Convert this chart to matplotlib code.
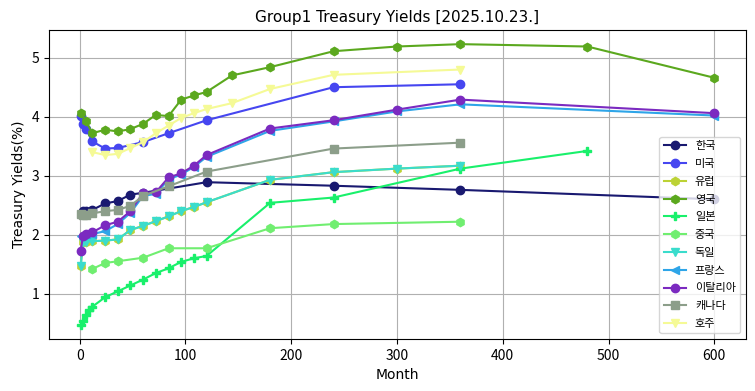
import matplotlib
matplotlib.use("Agg")
import matplotlib.pyplot as plt

plt.rcParams['font.family'] = ['Noto Sans CJK KR', 'DejaVu Sans']

# months / yields (%) per country
kr_m = [3, 6, 12, 24, 36, 48, 60, 120, 240, 360, 600]
kr_y = [2.41, 2.41, 2.42, 2.53, 2.57, 2.68, 2.71, 2.89, 2.83, 2.76, 2.60]

us_m = [1, 3, 6, 12, 24, 36, 60, 84, 120, 240, 360]
us_y = [4.02, 3.88, 3.79, 3.58, 3.46, 3.47, 3.57, 3.72, 3.94, 4.50, 4.55]

de_m = [1, 3, 6, 12, 24, 36, 48, 60, 72, 84, 96, 108, 120, 180, 240, 300, 360]
de_y = [1.47, 1.87, 1.88, 1.89, 1.90, 1.92, 2.08, 2.15, 2.23, 2.31, 2.40, 2.47,
        2.55, 2.93, 3.06, 3.12, 3.17]

uk_m = [1, 6, 12, 24, 36, 48, 60, 72, 84, 96, 108, 120, 144, 180, 240, 300,
        360, 480, 600]
uk_y = [4.07, 3.92, 3.72, 3.78, 3.75, 3.79, 3.88, 4.03, 4.01, 4.29, 4.36, 4.42,
        4.70, 4.84, 5.11, 5.19, 5.23, 5.19, 4.66]

jp_m = [1, 3, 6, 9, 12, 24, 36, 48, 60, 72, 84, 96, 108, 120, 180, 240, 360, 480]
jp_y = [0.47, 0.53, 0.64, 0.72, 0.78, 0.94, 1.04, 1.14, 1.24, 1.35, 1.43, 1.54,
        1.60, 1.64, 2.54, 2.63, 3.12, 3.42]

cn_m = [12, 24, 36, 60, 84, 120, 180, 240, 360]
cn_y = [1.42, 1.52, 1.55, 1.61, 1.77, 1.77, 2.11, 2.18, 2.22]

fr_m = [1, 3, 6, 12, 24, 36, 48, 60, 72, 84, 96, 108, 120, 180, 240, 300, 360, 600]
fr_y = [1.97, 2.00, 2.02, 2.01, 2.06, 2.18, 2.37, 2.66, 2.69, 2.94, 3.02, 3.15,
        3.32, 3.76, 3.92, 4.09, 4.21, 4.02]

it_m = [1, 3, 6, 12, 24, 36, 48, 60, 72, 84, 96, 108, 120, 180, 240, 300, 360, 600]
it_y = [1.73, 1.97, 2.01, 2.04, 2.16, 2.22, 2.40, 2.71, 2.72, 2.97, 3.04, 3.17,
        3.35, 3.80, 3.94, 4.12, 4.29, 4.06]

ca_m = [1, 3, 6, 12, 24, 36, 48, 60, 84, 120, 240, 360]
ca_y = [2.35, 2.33, 2.33, 2.36, 2.40, 2.42, 2.49, 2.66, 2.82, 3.07, 3.46, 3.56]

au_m = [12, 24, 36, 48, 60, 72, 84, 96, 108, 120, 144, 180, 240, 360]
au_y = [3.40, 3.35, 3.37, 3.47, 3.57, 3.72, 3.85, 3.98, 4.06, 4.13, 4.23, 4.47,
        4.71, 4.80]

# Europe curve sits exactly under Germany in the reference
eu_m = de_m
eu_y = de_y

series = [
    ("한국", kr_m, kr_y, "#191970", "o"),
    ("미국", us_m, us_y, "#4646f0", "o"),
    ("유럽", eu_m, eu_y, "#bcd235", "h"),
    ("영국", uk_m, uk_y, "#5ba81e", "h"),
    ("일본", jp_m, jp_y, "#19f06b", "P"),
    ("중국", cn_m, cn_y, "#70ee70", "h"),
    ("독일", de_m, de_y, "#3adccc", "v"),
    ("프랑스", fr_m, fr_y, "#2ea5e8", "<"),
    ("이탈리아", it_m, it_y, "#7b2ac0", "o"),
    ("캐나다", ca_m, ca_y, "#8c9e8a", "s"),
    ("호주", au_m, au_y, "#f5fa96", "v"),
]

fig, ax = plt.subplots(figsize=(7.55, 3.91), dpi=100)

for name, m, y, color, marker in series:
    ax.plot(m, y, marker=marker, color=color, label=name, linewidth=1.5,
            markersize=6)

ax.set_title("Group1 Treasury Yields [2025.10.23.]", fontsize=11,
             family=['DejaVu Sans'])
ax.set_xlabel("Month", family=['DejaVu Sans'])
ax.set_ylabel("Treasury Yields(%)", family=['DejaVu Sans'])
ax.grid(True)
ax.legend(loc="lower right", fontsize=8, labelspacing=0.7)

fig.subplots_adjust(left=0.065, right=0.988, top=0.923, bottom=0.133)
fig.savefig("out.png", dpi=100)
